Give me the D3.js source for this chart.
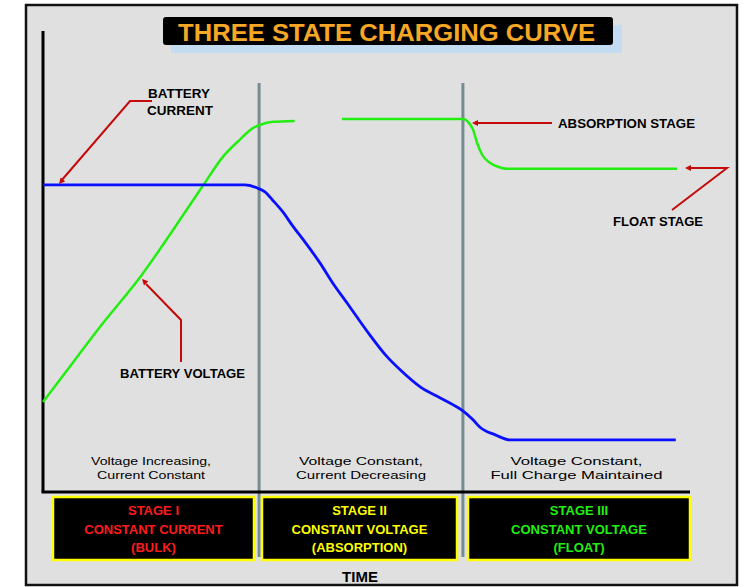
<!DOCTYPE html>
<html>
<head>
<meta charset="utf-8">
<script src="https://cdn.jsdelivr.net/npm/d3@7"></script>
<style>
html,body{margin:0;padding:0;background:#fff;}
svg{display:block;font-family:"Liberation Sans",Arial,sans-serif;}
</style>
</head>
<body>
<svg id="chart" width="752" height="587"></svg>
<script>
// ---- data (time and level in arbitrary units 0..100) ----
const currentTime  = [0, 31.2, 33.2, 34.3, 35.5, 37.1, 38.5, 40.5, 42.8, 44.8, 47.0, 48.5, 50.5, 53.2, 55.2, 58.3, 61.4, 63.4, 64.9, 66.5, 67.5, 69.9, 72.2, 97.8];
const currentLevel = [66.6, 66.6, 65.9, 65.1, 63.3, 60.7, 57.9, 54.2, 49.7, 45.3, 41.0, 38.0, 34.1, 29.3, 26.5, 22.8, 20.4, 18.9, 17.6, 15.6, 14.1, 12.4, 11.3, 11.3];
const voltageTime  = [0, 4.9, 8.8, 15.0, 23.2, 24.7, 27.8, 30.4, 32.5, 33.5, 35.5, 38.9, 42.5, 46.2, 64.9, 65.7, 66.5, 67.1, 67.9, 69.1, 70.9, 71.7, 98.0];
const voltageLevel = [19.5, 28.6, 35.8, 46.6, 63.3, 66.4, 72.7, 76.4, 79.0, 79.6, 80.3, 80.5, null, 80.9, 80.9, 80.3, 78.5, 75.7, 73.1, 71.4, 70.3, 70.1, 70.1];
const stageBounds  = [33.4, 64.9];
const stageNames   = ["STAGE I", "STAGE II", "STAGE III"];
const stageModes   = ["CONSTANT CURRENT", "CONSTANT VOLTAGE", "CONSTANT VOLTAGE"];
const stageTags    = ["(BULK)", "(ABSORPTION)", "(FLOAT)"];
const stageNotes1  = ["Voltage Increasing,", "Voltage Constant,", "Voltage Constant,"];
const stageNotes2  = ["Current Constant", "Current Decreasing", "Full Charge Maintained"];
const titleText    = "THREE STATE CHARGING CURVE";
const xLabel       = "TIME";

// ---- setup ----
const svg = d3.select("#chart");
const x = d3.scaleLinear().domain([0, 100]).range([43, 690]);
const y = d3.scaleLinear().domain([0, 100]).range([492, 31]);

// outer panel
svg.append("rect").attr("x", 26).attr("y", 5).attr("width", 711).attr("height", 580)
  .attr("fill", "#e0e0e0").attr("stroke", "#111").attr("stroke-width", 2.5);

// title
const tg = svg.append("g");
tg.append("rect").attr("x", 171).attr("y", 25).attr("width", 451).attr("height", 28).attr("fill", "#c4dcf2");
tg.append("rect").attr("x", 163).attr("y", 17).attr("width", 450).attr("height", 28).attr("rx", 3).attr("fill", "#000");
tg.append("text").attr("x", 178).attr("y", 41).attr("font-size", 23).attr("font-weight", "bold")
  .attr("fill", "#f6a723").attr("textLength", 417).attr("lengthAdjust", "spacingAndGlyphs").text(titleText);

// stage divider lines
svg.selectAll("line.div").data(stageBounds).enter().append("line")
  .attr("class", "div")
  .attr("x1", d => x(d)).attr("x2", d => x(d))
  .attr("y1", 83).attr("y2", 557)
  .attr("stroke", "#748c92").attr("stroke-width", 3);

// axes
svg.append("line").attr("x1", x(0)).attr("x2", x(0)).attr("y1", 31).attr("y2", y(0))
  .attr("stroke", "#000").attr("stroke-width", 3);
svg.append("line").attr("x1", x(0) - 1.5).attr("x2", x(100)).attr("y1", y(0)).attr("y2", y(0))
  .attr("stroke", "#000").attr("stroke-width", 3);

// series
const currentData = currentTime.map((t, i) => ({t, v: currentLevel[i]}));
const voltageData = voltageTime.map((t, i) => ({t, v: voltageLevel[i]}));
const line = d3.line().defined(d => d.v !== null).x(d => x(d.t)).y(d => y(d.v)).curve(d3.curveMonotoneX);

svg.append("path").datum(voltageData).attr("d", line)
  .attr("fill", "none").attr("stroke", "#22ee11").attr("stroke-width", 2.5);
svg.append("path").datum(currentData).attr("d", line)
  .attr("fill", "none").attr("stroke", "#0a10ff").attr("stroke-width", 2.8);

// annotations
const red = "#c40a0a";
function arrowLine(pts) {
  svg.append("polyline").attr("points", pts.map(p => p.join(",")).join(" "))
    .attr("fill", "none").attr("stroke", red).attr("stroke-width", 2);
}
function arrowHead(tip, from) {
  const ang = Math.atan2(tip[1] - from[1], tip[0] - from[0]);
  const L = 6, W = 3;
  const bx = tip[0] - L * Math.cos(ang), by = tip[1] - L * Math.sin(ang);
  const p1 = [bx + W * Math.sin(ang), by - W * Math.cos(ang)];
  const p2 = [bx - W * Math.sin(ang), by + W * Math.cos(ang)];
  svg.append("polygon").attr("points", [tip, p1, p2].map(p => p.join(",")).join(" ")).attr("fill", red);
}
function label(txt, px, py, w, size) {
  svg.append("text").attr("x", px).attr("y", py).attr("font-size", size || 12).attr("font-weight", "bold")
    .attr("fill", "#000").attr("textLength", w).attr("lengthAdjust", "spacingAndGlyphs").text(txt);
}

// battery current
arrowLine([[61, 181], [130, 101], [152, 101]]);
arrowHead([59, 184], [130, 101]);
label("BATTERY", 148, 98, 62);
label("CURRENT", 147, 115, 66);

// absorption stage
arrowLine([[478, 123], [552, 123]]);
arrowHead([472, 123], [552, 123]);
label("ABSORPTION STAGE", 558, 128, 137);

// float stage
arrowLine([[690, 168], [727, 168], [672, 210]]);
arrowHead([685, 168], [727, 168]);
label("FLOAT STAGE", 613, 226, 90);

// battery voltage
arrowLine([[146, 284], [181, 320], [181, 362]]);
arrowHead([142, 279], [181, 320]);
label("BATTERY VOLTAGE", 120, 378, 125);

// stage notes
const centers = [0, 1, 2].map(i => {
  const a = i === 0 ? 0 : stageBounds[i - 1];
  const b = i === 2 ? 100 : stageBounds[i];
  return (x(a) + x(b)) / 2;
});
const noteW1 = [120, 124, 132], noteW2 = [108, 130, 172];
const noteSize = [11, 10, 11];
stageNotes1.forEach((s, i) => {
  svg.append("text").attr("x", centers[i] - noteW1[i] / 2).attr("y", 465).attr("font-size", noteSize[i])
    .attr("textLength", noteW1[i]).attr("lengthAdjust", "spacingAndGlyphs").attr("fill", "#000").text(s);
  svg.append("text").attr("x", centers[i] - noteW2[i] / 2).attr("y", 479).attr("font-size", noteSize[i])
    .attr("textLength", noteW2[i]).attr("lengthAdjust", "spacingAndGlyphs").attr("fill", "#000").text(stageNotes2[i]);
});

// stage boxes
const boxes = [[53, 254], [262, 457], [468, 690]];
const colors = ["#ff1a1a", "#ffff00", "#22ee11"];
boxes.forEach((b, i) => {
  svg.append("rect").attr("x", b[0]).attr("y", 497).attr("width", b[1] - b[0]).attr("height", 63)
    .attr("fill", "#000").attr("stroke", "#ffff00").attr("stroke-width", 2.5);
  const cx = (b[0] + b[1]) / 2;
  [stageNames[i], stageModes[i], stageTags[i]].forEach((s, j) => {
    svg.append("text").attr("x", cx).attr("y", 515 + j * 18.5).attr("text-anchor", "middle")
      .attr("font-size", 13).attr("font-weight", "bold").attr("fill", colors[i]).text(s);
  });
});

// x label
svg.append("text").attr("x", 360).attr("y", 582).attr("text-anchor", "middle")
  .attr("font-size", 15).attr("font-weight", "bold").attr("fill", "#000").text(xLabel);
</script>
</body>
</html>
